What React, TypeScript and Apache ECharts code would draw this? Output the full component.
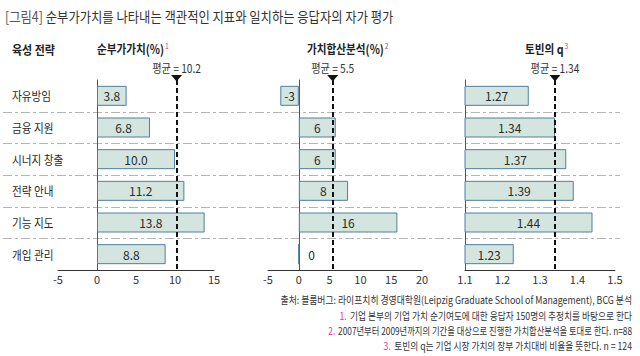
import React, { useEffect, useRef } from 'react';
import * as echarts from 'echarts';

const categories = ['자유방임', '금융 지원', '시너지 창출', '전략 안내', '기능 지도', '개입 관리'];
const netValueAdded = [3.8, 6.8, 10.0, 11.2, 13.8, 8.8];
const sumOfParts = [-3, 6, 6, 8, 16, 0];
const tobinQ = [1.27, 1.34, 1.37, 1.39, 1.44, 1.23];
const means = [10.2, 5.5, 1.34];
const meanLabels = ['평균 = 10.2', '평균 = 5.5', '평균 = 1.34'];
const panelTitles = ['순부가가치(%)', '가치합산분석(%)', '토빈의 q'];
const panelNotes = ['1', '2', '3'];
const axisMins = [-5, -5, 1.1];
const axisMaxs = [15, 20, 1.5];
const axisIntervals = [5, 5, 0.1];
const axisDecimals = [0, 0, 1];
const labelDecimals = [1, 0, 2];
const titlePrefix = '[그림4]';
const titleText = '순부가가치를 나타내는 객관적인 지표와 일치하는 응답자의 자가 평가';
const rowHeader = '육성 전략';
const sourceNote = '출처: 블룸버그: 라이프치히 경영대학원(Leipzig Graduate School of Management), BCG 분석';
const footnotes = [
  ['1.', '기업 본부의 기업 가치 순기여도에 대한 응답자 150명의 추정치를 바탕으로 한다'],
  ['2.', '2007년부터 2009년까지의 기간을 대상으로 진행한 가치합산분석을 토대로 한다. n=88'],
  ['3.', '토빈의 q는 기업 시장 가치의 장부 가치대비 비율을 뜻한다. n = 124'],
];

const seriesValues = [netValueAdded, sumOfParts, tobinQ];

const FONT = '"Noto Sans CJK KR", "Noto Sans", sans-serif';
const PINK = '#e6338a';
const TXT = '#2b2b2b';

const grids = [
  { left: 58, width: 156, top: 80, height: 190, outerBoundsMode: 'none', containLabel: false },
  { left: 268, width: 154, top: 80, height: 190, outerBoundsMode: 'none', containLabel: false },
  { left: 465, width: 150, top: 80, height: 190, outerBoundsMode: 'none', containLabel: false },
];

export default function App() {
  const ref = useRef<HTMLDivElement>(null);
  useEffect(() => {
    document.body.style.margin = '0';
    const chart = echarts.init(ref.current!, undefined, { renderer: 'svg' });
    const option: any = {
      animation: false,
      textStyle: { fontFamily: FONT },
      grid: grids,
      xAxis: grids.map((_, i) => ({
        type: 'value',
        gridIndex: i,
        min: axisMins[i],
        max: axisMaxs[i],
        interval: axisIntervals[i],
        axisLine: { show: true, lineStyle: { color: '#333', width: 1 } },
        axisTick: { show: false },
        splitLine: { show: false },
        axisLabel: {
          fontSize: 11,
          color: '#333',
          margin: 3,
          fontFamily: FONT,
          formatter: (v: number) => v.toFixed(axisDecimals[i]),
        },
      })),
      yAxis: grids.map((_, i) => ({
        type: 'category',
        gridIndex: i,
        data: categories,
        inverse: true,
        axisTick: { show: false },
        axisLine: { show: true, onZero: true, lineStyle: { color: '#555', width: 1 } },
        axisLabel: { show: false },
        splitLine: { show: false },
      })),
      series: seriesValues.map((vals, i) => ({
        type: 'bar',
        xAxisIndex: i,
        yAxisIndex: i,
        barWidth: 20,
        data: vals.map((v) =>
          v === 0
            ? { value: v, label: { position: 'right', distance: 9 } }
            : { value: v }
        ),
        itemStyle: { color: '#d4e5df', borderColor: '#4f7f9c', borderWidth: 1 },
        label: {
          show: true,
          position: 'inside',
          color: TXT,
          fontSize: 12,
          fontFamily: FONT,
          formatter: (p: any) => Number(p.value).toFixed(labelDecimals[i]),
        },
        markLine: {
          silent: true,
          symbol: 'none',
          label: { show: false },
          lineStyle: { color: '#111', type: [5, 3], width: 2 },
          data: [{ xAxis: means[i] }],
        },
      })),
    };
    chart.setOption(option);

    const graphics: any[] = [];
    graphics.push({
      type: 'text', x: 5, y: 16, scaleX: 0.88,
      style: {
        text: '{a|' + titlePrefix + '} {b|' + titleText + '}',
        verticalAlign: 'middle',
        rich: {
          a: { fontSize: 14, fill: '#555', fontFamily: FONT },
          b: { fontSize: 14, fill: '#333', fontFamily: FONT },
        },
      },
    });
    graphics.push({
      type: 'text', x: 12, y: 49, scaleX: 0.88,
      style: { text: rowHeader, fontSize: 12.5, fontWeight: 'bold', fill: '#222', fontFamily: FONT, verticalAlign: 'middle' },
    });
    const headerX = [97, 307, 525];
    panelTitles.forEach((t, i) => {
      graphics.push({
        type: 'text', x: headerX[i], y: 49, scaleX: 0.85,
        style: {
          text: '{t|' + t + '}{s|' + panelNotes[i] + '}',
          verticalAlign: 'middle',
          rich: {
            t: { fontSize: 12.5, fontWeight: 'bold', fill: '#222', fontFamily: FONT },
            s: { fontSize: 8, fill: PINK, fontFamily: FONT, verticalAlign: 'top', padding: [0, 0, 8, 1] },
          },
        },
      });
    });

    // category labels placed on the category scale of the first panel
    const centers = categories.map((c) => (chart.convertToPixel({ yAxisIndex: 0 } as any, c) as any) as number);
    categories.forEach((c, k) => {
      graphics.push({
        type: 'text', x: 12, y: centers[k], scaleX: 0.85,
        style: { text: c, fontSize: 12.5, fill: TXT, fontFamily: FONT, verticalAlign: 'middle' },
      });
    });

    // separators between categories, spanning all panels
    for (let k = 0; k < centers.length - 1; k++) {
      const y = Math.round((centers[k] + centers[k + 1]) / 2) + 0.5;
      graphics.push({
        type: 'line', silent: true,
        shape: { x1: 3, y1: y, x2: 620, y2: y },
        style: { stroke: '#b5b5b5', lineWidth: 1, lineDash: [9, 3, 3, 3] },
        z: -1,
      });
    }

    means.forEach((m, i) => {
      const x = chart.convertToPixel({ xAxisIndex: i } as any, m) as any as number;
      graphics.push({
        type: 'polygon',
        shape: { points: [[x - 5.5, 75], [x + 5.5, 75], [x, 81.5]] },
        style: { fill: '#111' },
      });
      graphics.push({
        type: 'text', x: x, y: 68, scaleX: 0.85,
        style: { text: meanLabels[i], fontSize: 12, fill: '#333', fontFamily: FONT, align: 'center', verticalAlign: 'middle' },
      });
    });

    graphics.push({
      type: 'text', x: 632, y: 300, scaleX: 0.84,
      style: { text: sourceNote, fontSize: 10.5, fill: '#333', fontFamily: FONT, align: 'right', verticalAlign: 'middle' },
    });
    footnotes.forEach((f, i) => {
      graphics.push({
        type: 'text', x: 632, y: 316 + i * 15, scaleX: i === 1 ? 0.79 : 0.83,
        style: {
          text: '{n|' + f[0] + '} {t|' + f[1] + '}',
          align: 'right', verticalAlign: 'middle',
          rich: {
            n: { fontSize: 10.5, fill: PINK, fontFamily: FONT },
            t: { fontSize: 10.5, fill: '#333', fontFamily: FONT },
          },
        },
      });
    });

    chart.setOption({ graphic: graphics });
    return () => chart.dispose();
  }, []);
  return <div ref={ref} style={{ width: 640, height: 356, position: 'absolute', left: 0, top: 0 }} />;
}
